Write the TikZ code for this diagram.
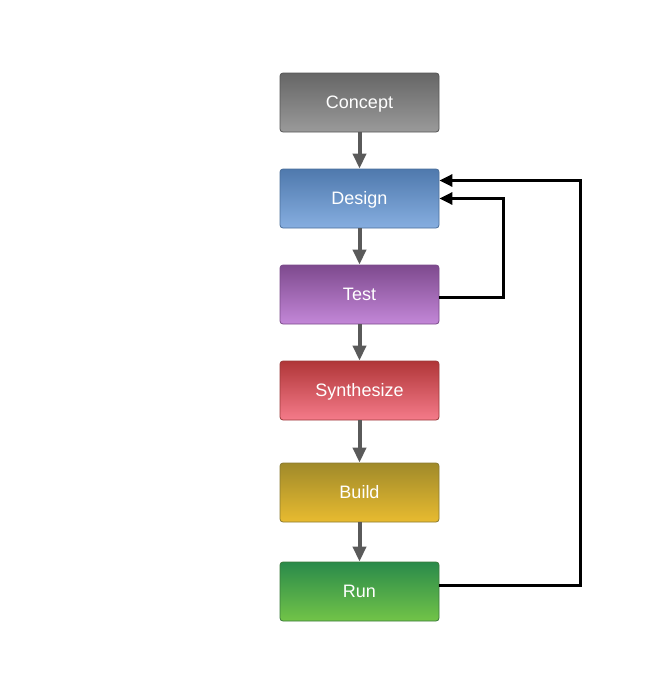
\documentclass[tikz,border=0pt]{standalone}
\usepackage{fontspec}
\setmainfont{Liberation Sans}
\usetikzlibrary{arrows.meta}
\usepackage{xcolor}

\definecolor{conceptTop}{HTML}{666666}
\definecolor{conceptBot}{HTML}{9A9A9A}
\definecolor{conceptLine}{HTML}{555555}
\definecolor{designTop}{HTML}{4F79AD}
\definecolor{designBot}{HTML}{86AEE0}
\definecolor{designLine}{HTML}{4A6E9A}
\definecolor{testTop}{HTML}{7E4A8E}
\definecolor{testBot}{HTML}{C387D8}
\definecolor{testLine}{HTML}{7A4A8A}
\definecolor{synthTop}{HTML}{B03638}
\definecolor{synthBot}{HTML}{F57B8A}
\definecolor{synthLine}{HTML}{9A3A3A}
\definecolor{buildTop}{HTML}{A08A2A}
\definecolor{buildBot}{HTML}{E8BB30}
\definecolor{buildLine}{HTML}{8A7A30}
\definecolor{runTop}{HTML}{2A8A4A}
\definecolor{runBot}{HTML}{72C448}
\definecolor{runLine}{HTML}{3A7A3A}
\definecolor{flowGray}{HTML}{5A5A5A}

\begin{document}
\begin{tikzpicture}[x=1pt, y=-1pt,
  stage/.style={draw=#1Line, line width=.8pt, rounded corners=3pt,
    top color=#1Top, bottom color=#1Bot, text=white,
    minimum width=159pt, minimum height=59pt, inner sep=0pt,
    text height=12.9pt, text depth=0pt,
    font=\fontsize{18}{20}\selectfont},
  flow/.style={flowGray, line width=4pt, -{Triangle[length=15pt,width=13pt]}},
  back/.style={black, line width=3pt, -{Triangle[length=13pt,width=12pt]}}]
\useasboundingbox (0,0) rectangle (652,693);
\node[stage=concept] (concept) at (359.5,102.5) {Concept};
\node[stage=design] (design) at (359.5,198.5) {Design};
\node[stage=test] (test) at (359.5,294.5) {Test};
\node[stage=synth] (synth) at (359.5,390.5) {Synthesize};
\node[stage=build] (build) at (359.5,492.5) {Build};
\node[stage=run] (run) at (359.5,591.5) {Run};
\draw[flow] (concept) -- (design);
\draw[flow] (design) -- (test);
\draw[flow] (test) -- (synth);
\draw[flow] (synth) -- (build);
\draw[flow] (build) -- (run);
% loops back to design
\draw[back] ([yshift=-3pt]test.east) -- ++(64,0) |- (design.east);
\draw[back] ([yshift=6pt]run.east) -- ++(141,0) |- ([yshift=18pt]design.east);
\end{tikzpicture}
\end{document}
